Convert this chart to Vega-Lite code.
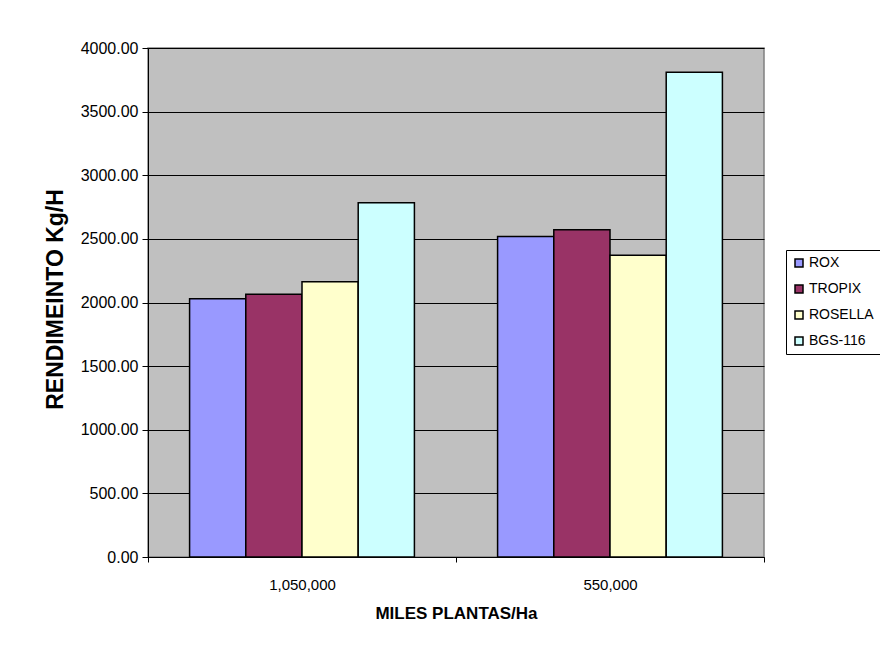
{
  "$schema": "https://vega.github.io/schema/vega-lite/v6.json",
  "width": 616,
  "height": 509,
  "autosize": "none",
  "padding": {"left": 148, "top": 48, "right": 116, "bottom": 89},
  "background": "white",
  "config": {
    "font": "Liberation Sans",
    "view": {"fill": "#C0C0C0", "stroke": "#808080", "strokeWidth": 1.5}
  },
  "data": {
    "values": [
      {"densidad": "1,050,000", "variedad": "ROX", "rendimiento": 2030},
      {"densidad": "1,050,000", "variedad": "TROPIX", "rendimiento": 2065},
      {"densidad": "1,050,000", "variedad": "ROSELLA", "rendimiento": 2163},
      {"densidad": "1,050,000", "variedad": "BGS-116", "rendimiento": 2783},
      {"densidad": "550,000", "variedad": "ROX", "rendimiento": 2518},
      {"densidad": "550,000", "variedad": "TROPIX", "rendimiento": 2572},
      {"densidad": "550,000", "variedad": "ROSELLA", "rendimiento": 2371},
      {"densidad": "550,000", "variedad": "BGS-116", "rendimiento": 3810}
    ]
  },
  "mark": {"type": "bar", "stroke": "black", "strokeWidth": 1.5},
  "encoding": {
    "x": {
      "field": "densidad",
      "type": "nominal",
      "sort": ["1,050,000", "550,000"],
      "scale": {"paddingInner": 0, "paddingOuter": 0},
      "axis": {
        "title": "MILES PLANTAS/Ha",
        "titleFontSize": 17,
        "titleFontWeight": "bold",
        "titleColor": "black",
        "titleY": 61,
        "titleBaseline": "alphabetic",
        "labelAngle": 0,
        "labelFontSize": 15,
        "labelColor": "black",
        "labelPadding": 15,
        "tickBand": "extent",
        "tickSize": 5,
        "tickColor": "black",
        "domainColor": "black",
        "domainWidth": 1
      }
    },
    "xOffset": {
      "field": "variedad",
      "type": "nominal",
      "sort": ["ROX", "TROPIX", "ROSELLA", "BGS-116"],
      "scale": {"paddingInner": 0, "paddingOuter": 0.74}
    },
    "y": {
      "field": "rendimiento",
      "type": "quantitative",
      "scale": {"domain": [0, 4000], "nice": false},
      "axis": {
        "title": "RENDIMEINTO Kg/H",
        "titleFontSize": 23,
        "titleFontWeight": "bold",
        "titleColor": "black",
        "titleX": -93,
        "titleY": 251,
        "titleAngle": 270,
        "titleAlign": "center",
        "titleBaseline": "middle",
        "values": [0, 500, 1000, 1500, 2000, 2500, 3000, 3500, 4000],
        "format": ".2f",
        "labelFontSize": 16,
        "labelColor": "black",
        "labelPadding": 4,
        "tickSize": 6,
        "tickColor": "black",
        "domainColor": "black",
        "grid": true,
        "gridColor": "black",
        "gridWidth": 1,
        "gridOpacity": 1
      }
    },
    "color": {
      "field": "variedad",
      "type": "nominal",
      "scale": {
        "domain": ["ROX", "TROPIX", "ROSELLA", "BGS-116"],
        "range": ["#9999FF", "#993366", "#FFFFCC", "#CCFFFF"]
      },
      "legend": {
        "title": null,
        "orient": "none",
        "legendX": 638,
        "legendY": 202,
        "strokeColor": "black",
        "fillColor": "white",
        "padding": 6,
        "symbolType": "square",
        "symbolSize": 64,
        "symbolStrokeColor": "black",
        "symbolStrokeWidth": 1.5,
        "labelFontSize": 14,
        "labelColor": "black",
        "labelOffset": 3,
        "rowPadding": 12
      }
    }
  }
}
